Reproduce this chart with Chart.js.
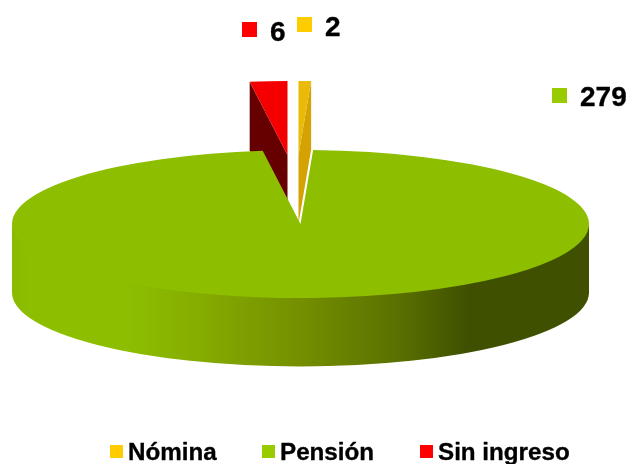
<!DOCTYPE html>
<html>
<head>
<meta charset="utf-8">
<style>html,body{margin:0;padding:0;background:#fff}canvas{display:block}</style>
<script src="https://cdn.jsdelivr.net/npm/chart.js@4"></script>
</head>
<body>
<canvas id="c" width="630" height="464"></canvas>
<script>
const categories = ['Nómina', 'Pensión', 'Sin ingreso'];
const values = [2, 279, 6];

const sliceColors = ['#E9BA08', '#8DBE00', '#F40000'];
const cutColors = ['#D4A202', null, '#660000'];
const keyColors = ['#FFCC00', '#99CC00', '#FF0000'];

// pie projection and layout (styling only)
const cx = 300.5, cy = 224, rx = 288.5, ry = 74, depth = 68.5;
const explode = [[-2, -69], [0, 0], [-13, -69]];
const valueKeys = [
  {box: [297, 17], text: [325, 36]},
  {box: [552, 88], text: [580, 106]},
  {box: [242, 22], text: [270, 41]}
];
const legendKeys = [{box: 110, text: 128}, {box: 262, text: 280}, {box: 420, text: 438}];
const FONT = '"Liberation Sans", Arial, sans-serif';

function rimPoint(angle, dx, dy) {
  return [cx + dx + Math.cos(angle) * rx, cy + dy + Math.sin(angle) * ry];
}

const pie3d = {
  id: 'pie3d',
  beforeDatasetsDraw(chart) {
    const ctx = chart.ctx;
    const arcs = chart.getDatasetMeta(0).data;

    // exploded slices sit behind the main body
    [2, 0].forEach(i => {
      const el = arcs[i];
      const [dx, dy] = explode[i];
      // the visible cut face
      const a = i === 2 ? el.startAngle : el.endAngle;
      const p = rimPoint(a, dx, dy);
      ctx.save();
      ctx.fillStyle = cutColors[i];
      ctx.beginPath();
      ctx.moveTo(cx + dx, cy + dy);
      ctx.lineTo(p[0], p[1]);
      ctx.lineTo(p[0], p[1] + depth);
      ctx.lineTo(cx + dx, cy + dy + depth);
      ctx.closePath();
      ctx.fill();
      ctx.restore();
      drawTop(ctx, el, dx, dy);
    });

    // outer wall of the main body; its top runs under the lid so no seam shows
    const g = ctx.createLinearGradient(cx - rx, 0, cx + rx, 0);
    g.addColorStop(0, '#8ABA00');
    g.addColorStop(0.03, '#8DBE00');
    g.addColorStop(0.2, '#8DBE00');
    g.addColorStop(0.33, '#85AB00');
    g.addColorStop(0.5, '#748F00');
    g.addColorStop(0.67, '#5A7000');
    g.addColorStop(0.79, '#3F5000');
    g.addColorStop(1, '#3F5000');
    ctx.save();
    ctx.fillStyle = g;
    ctx.beginPath();
    ctx.moveTo(cx + rx, cy + 2);
    ctx.lineTo(cx + rx, cy + depth);
    ctx.ellipse(cx, cy + depth, rx, ry, 0, 0, Math.PI);
    ctx.lineTo(cx - rx, cy + 2);
    ctx.closePath();
    ctx.fill();
    ctx.restore();

    drawTop(ctx, arcs[1], 0, 0);

    drawKeys(ctx);
    return false;
  }
};

function drawTop(ctx, el, dx, dy) {
  const R = el.outerRadius;
  ctx.save();
  ctx.translate(cx + dx, cy + dy);
  ctx.scale(rx / R, ry / R);
  ctx.translate(-el.x, -el.y);
  el.draw(ctx);
  ctx.restore();
}

function boldText(ctx, s, x, y) {
  ctx.fillStyle = '#000';
  ctx.strokeStyle = '#000';
  ctx.lineWidth = 0.35;
  ctx.lineJoin = 'round';
  ctx.fillText(s, x, y);
  ctx.strokeText(s, x, y);
}

function drawKeys(ctx) {
  ctx.save();
  ctx.textAlign = 'left';
  ctx.textBaseline = 'alphabetic';
  ctx.font = 'bold 28px ' + FONT;
  values.forEach((v, i) => {
    const k = valueKeys[i];
    ctx.fillStyle = keyColors[i];
    ctx.fillRect(k.box[0], k.box[1], 15, 15);
    boldText(ctx, String(v), k.text[0], k.text[1]);
  });
  ctx.font = 'bold 24.2px ' + FONT;
  categories.forEach((c, i) => {
    const k = legendKeys[i];
    ctx.fillStyle = keyColors[i];
    ctx.fillRect(k.box, 445, 13, 13);
    boldText(ctx, c, k.text, 460);
  });
  ctx.restore();
}

new Chart(document.getElementById('c'), {
  type: 'pie',
  data: {
    labels: categories,
    datasets: [{data: values, backgroundColor: sliceColors, borderWidth: 0, offset: 0}]
  },
  options: {
    responsive: false,
    animation: false,
    rotation: 0,
    plugins: {legend: {display: false}, tooltip: {enabled: false}}
  },
  plugins: [pie3d]
});
</script>
</body>
</html>
